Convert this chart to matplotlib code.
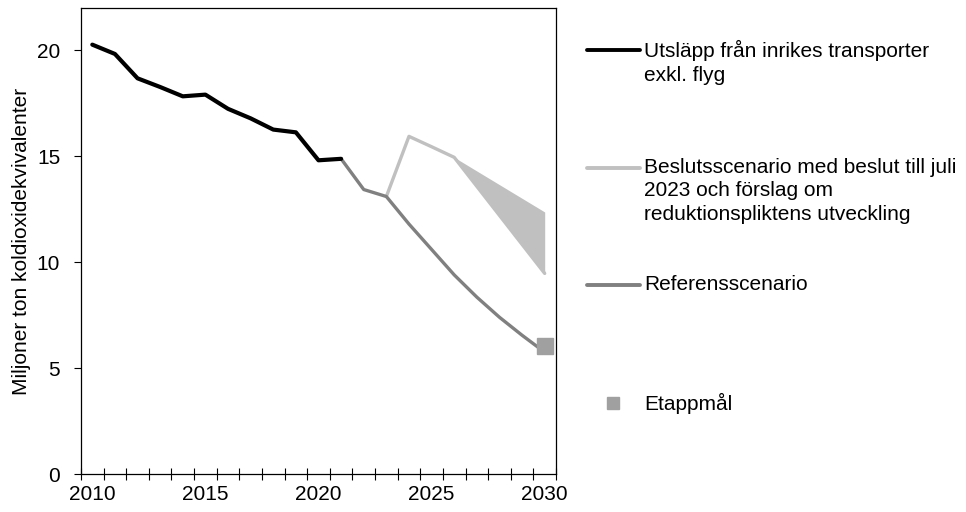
import numpy as np
import matplotlib.pyplot as plt
from matplotlib.lines import Line2D

plt.rcParams['font.family'] = ['Liberation Sans', 'DejaVu Sans']

# historical emissions
hist_years = [2010, 2011, 2012, 2013, 2014, 2015, 2016, 2017, 2018, 2019, 2020, 2021]
hist_vals = [20.27, 19.83, 18.68, 18.27, 17.83, 17.91, 17.24, 16.79, 16.26, 16.13, 14.81, 14.88]

# reference scenario
ref_years = [2021, 2022, 2023, 2024, 2025, 2026, 2027, 2028, 2029, 2030]
ref_vals = [14.88, 13.43, 13.10, 11.80, 10.60, 9.40, 8.35, 7.40, 6.55, 5.75]

# decision scenario (lower edge) and range upper edge
bes_years = [2023, 2024, 2025, 2026, 2030]
bes_vals = [13.10, 15.94, 15.45, 14.95, 9.47]
band_years = [2026, 2030]
band_low = [14.95, 9.47]
band_high = [14.95, 12.37]

goal_year = [2030]
goal_val = [6.05]

c_hist = '#000000'
c_ref = '#808080'
c_bes = '#c0c0c0'
c_goal = '#a0a0a0'

fs = 15

fig = plt.figure(figsize=(9.66, 5.12), dpi=100)
ax = fig.add_axes([81/966, 1 - 474/512, (556 - 81)/966, (474 - 8)/512])

ax.fill_between(band_years, band_low, band_high, color=c_bes, lw=0)
ax.plot(bes_years, bes_vals, color=c_bes, lw=2.4, solid_capstyle='round')
ax.plot(ref_years, ref_vals, color=c_ref, lw=2.4, solid_capstyle='round')
ax.plot(hist_years, hist_vals, color=c_hist, lw=3.0, solid_capstyle='round')
ax.plot(goal_year, goal_val, 's', color=c_goal, ms=12)

ax.set_xlim(2009.5, 2030.5)
ax.set_ylim(0, 22)
ax.set_xticks([2010, 2015, 2020, 2025, 2030])
ax.set_xticks(np.arange(2009.5, 2031, 1), minor=True)
ax.tick_params(axis='x', which='major', length=0, labelsize=fs, pad=8)
ax.tick_params(axis='x', which='minor', direction='inout', length=8, width=0.8)
ax.set_yticks([0, 5, 10, 15, 20])
ax.tick_params(axis='y', length=5, width=0.8, labelsize=fs, pad=10)
for s in ax.spines.values():
    s.set_linewidth(0.9)
ax.set_ylabel('Miljoner ton koldioxidekvivalenter', fontsize=fs, labelpad=4)

# legend drawn by hand so lines align with the first text row
def px(x, y):
    return x / 966, 1 - y / 512

entries = [
    (50, 'line', c_hist, 'Utsläpp från inrikes transporter\nexkl. flyg'),
    (168, 'line', c_bes, 'Beslutsscenario med beslut till juli\n2023 och förslag om\nreduktionspliktens utveckling'),
    (285, 'line', c_ref, 'Referensscenario'),
    (403, 'square', c_goal, 'Etappmål'),
]
for y, kind, col, label in entries:
    if kind == 'line':
        x0, y0 = px(587, y)
        x1, _ = px(640, y)
        fig.add_artist(Line2D([x0, x1], [y0, y0], color=col, lw=2.8,
                              solid_capstyle='round', transform=fig.transFigure))
    else:
        x0, y0 = px(613, y)
        fig.add_artist(Line2D([x0], [y0], marker='s', color=col, ms=8.5,
                              transform=fig.transFigure))
    tx, ty = px(644, y - 10)
    fig.text(tx, ty, label, fontsize=fs, va='top', ha='left', linespacing=1.3)

fig.savefig('out.png', dpi=100)
